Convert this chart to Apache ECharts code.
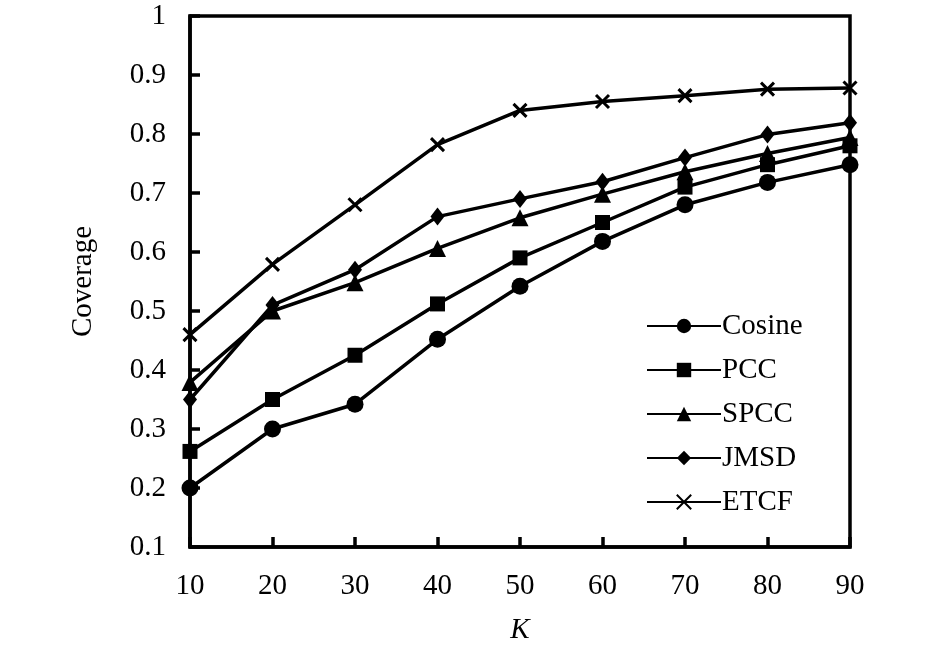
<!DOCTYPE html>
<html>
<head>
<meta charset="utf-8">
<script src="https://cdn.jsdelivr.net/npm/echarts@6/dist/echarts.min.js"></script>
<style>
html,body{margin:0;padding:0;background:#fff;}
#main{width:946px;height:650px;}
</style>
</head>
<body>
<div id="main"></div>
<script>
// K values on x axis
var kValues = [10, 20, 30, 40, 50, 60, 70, 80, 90];
// coverage per method
var cosine = [0.20, 0.30, 0.342, 0.452, 0.542, 0.618, 0.68, 0.718, 0.748];
var pcc    = [0.262, 0.35, 0.425, 0.512, 0.59, 0.65, 0.71, 0.748, 0.78];
var spcc   = [0.379, 0.50, 0.548, 0.606, 0.658, 0.698, 0.736, 0.767, 0.794];
var jmsd   = [0.35, 0.51, 0.57, 0.66, 0.69, 0.719, 0.76, 0.799, 0.819];
var etcf   = [0.46, 0.579, 0.68, 0.782, 0.84, 0.855, 0.865, 0.876, 0.878];

var FONT = 'Liberation Serif';
var FS = 29;
var crossPath = 'path://M0,0L10,10M10,0L0,10';

function pairs(vals){
    var out = [];
    for (var i = 0; i < kValues.length; i++) {
        out.push([kValues[i], vals[i]]);
    }
    return out;
}

function mkSeries(name, vals, symbol, size, cross){
    var s = {
        name: name,
        type: 'line',
        data: pairs(vals),
        symbol: symbol,
        symbolSize: size,
        showAllSymbol: true,
        lineStyle: { color: '#000', width: 3.5 },
        itemStyle: { color: '#000' },
        emphasis: { disabled: true },
        animation: false
    };
    if (cross) {
        s.itemStyle = { color: '#000', borderColor: '#000', borderWidth: 3 };
    }
    return s;
}

var chart = echarts.init(document.getElementById('main'));

var option = {
    backgroundColor: '#ffffff',
    textStyle: { fontFamily: FONT, color: '#000' },
    grid: {
        left: 190, right: 96, top: 16, bottom: 102,
        show: true,
        borderColor: '#000',
        borderWidth: 3.5
    },
    legend: {
        orient: 'vertical',
        left: 641,
        top: 305,
        itemWidth: 74,
        itemHeight: 18,
        itemGap: 12,
        textStyle: { fontFamily: FONT, fontSize: FS, color: '#000', lineHeight: 32, padding: [0, 0, 0, -4] },
        data: ['Cosine', 'PCC', 'SPCC', 'JMSD', 'ETCF']
    },
    xAxis: {
        type: 'value',
        min: 10,
        max: 90,
        interval: 10,
        name: 'K',
        nameLocation: 'middle',
        nameGap: 69,
        nameTextStyle: { fontFamily: FONT, fontSize: FS, fontStyle: 'italic', color: '#000' },
        axisLine: { show: true, lineStyle: { color: '#000', width: 3.5 } },
        axisTick: { show: true, inside: true, length: 10, lineStyle: { color: '#000', width: 3.5 } },
        axisLabel: { fontFamily: FONT, fontSize: FS, color: '#000', margin: 25 },
        splitLine: { show: false }
    },
    yAxis: {
        type: 'value',
        min: 0.1,
        max: 1,
        interval: 0.1,
        name: 'Coverage',
        nameLocation: 'middle',
        nameGap: 92,
        nameTextStyle: { fontFamily: FONT, fontSize: FS, color: '#000' },
        axisLine: { show: true, lineStyle: { color: '#000', width: 3.5 } },
        axisTick: { show: true, inside: true, length: 10, lineStyle: { color: '#000', width: 3.5 } },
        axisLabel: {
            fontFamily: FONT, fontSize: FS, color: '#000', margin: 24,
            formatter: function (v) { return String(Math.round(v * 10) / 10); }
        },
        splitLine: { show: false }
    },
    series: [
        mkSeries('Cosine', cosine, 'circle', 17),
        mkSeries('PCC', pcc, 'rect', 15),
        mkSeries('SPCC', spcc, 'triangle', 17),
        mkSeries('JMSD', jmsd, 'diamond', [14, 18]),
        mkSeries('ETCF', etcf, crossPath, 13, true)
    ]
};

chart.setOption(option);
</script>
</body>
</html>
